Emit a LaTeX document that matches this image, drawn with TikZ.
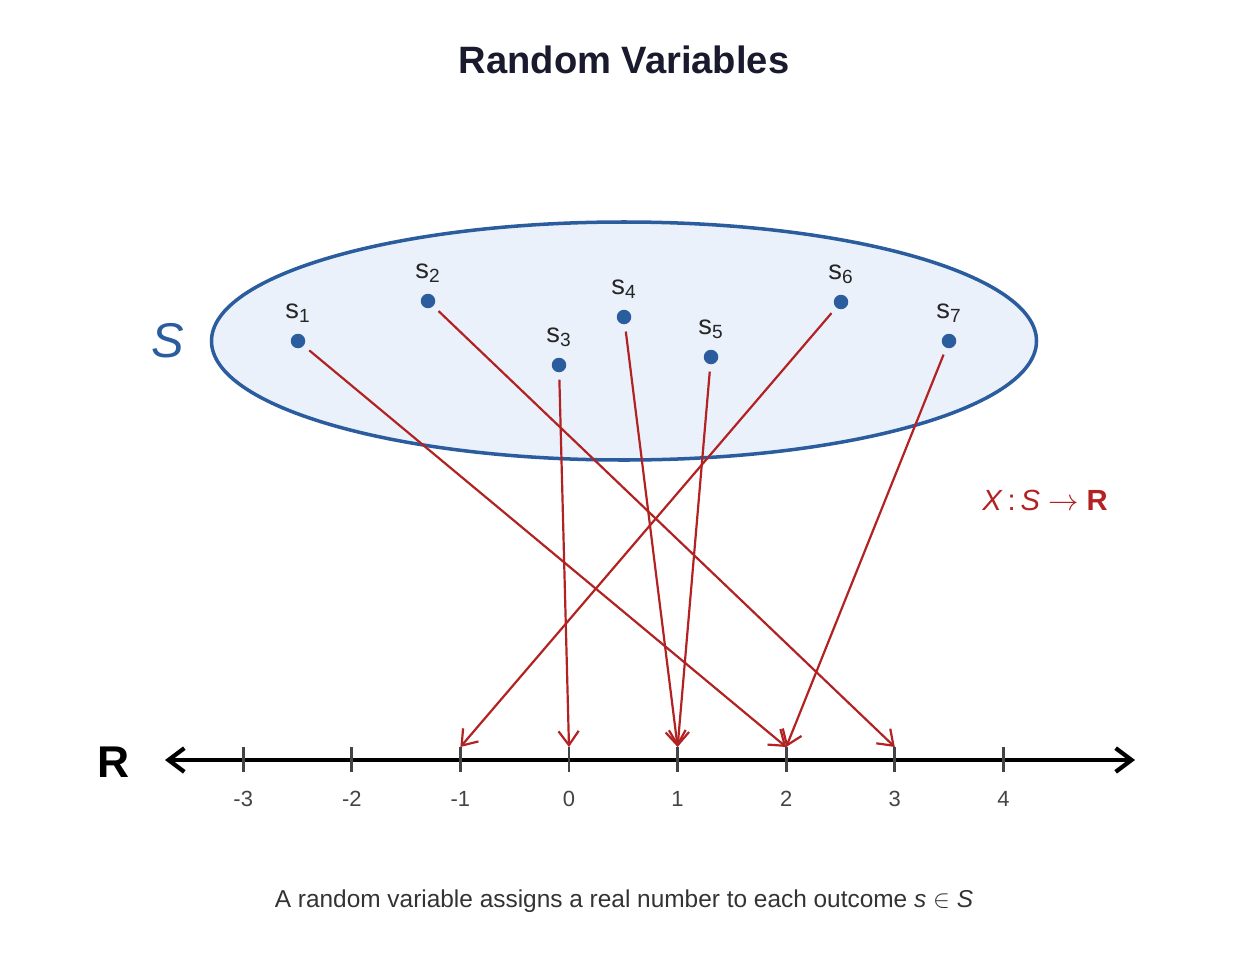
\documentclass[tikz,border=0pt]{standalone}
\usepackage{fontspec}
\setmainfont{Liberation Sans}
\usetikzlibrary{arrows.meta,calc,positioning}
\definecolor{setblue}{HTML}{2A5C9E}
\definecolor{setfill}{HTML}{EAF1FA}
\definecolor{mapred}{HTML}{B22222}
\definecolor{titleink}{HTML}{1A1A2E}
\definecolor{tickgray}{HTML}{444444}

\begin{document}
\begin{tikzpicture}[x=0.02cm,y=-0.02cm,
    dot/.style={circle,fill=setblue,inner sep=0pt,minimum size=0.29cm},
    outcome/.style={anchor=base,font=\fontsize{15.5}{17}\selectfont,text=black!85},
    mapto/.style={draw=mapred,line width=1.25pt,shorten <=4pt,
      -{Straight Barb[length=8pt,width=11.5pt]}},
    tickmark/.style={draw=tickgray,line width=1.5pt},
    ticklabel/.style={font=\fontsize{12.5}{14}\selectfont,text=tickgray}]
        % page frame, in pixels of the reference
        \useasboundingbox (0,0) rectangle (1248,960);
        \pgfmathsetmacro{\unit}{108.6}
        \pgfmathsetmacro{\zero}{569}

        \node[font=\fontsize{21.7}{26}\selectfont\bfseries,text=titleink]
          (heading) at (624,60) {Random Variables};

        % sample space
        \draw[fill=setfill,draw=setblue,line width=2pt]
          (624,341) coordinate (centro) ellipse [x radius=412.5,y radius=119];
        \node[font=\fontsize{27.8}{30}\selectfont\itshape,text=setblue]
          (space) at (168,341) {S};

        % outcomes
        \node[dot] (s1) at (298,341) {};
        \node[dot] (s2) at (428,301) {};
        \node[dot] (s3) at (559,365) {};
        \node[dot] (s4) at (624,317) {};
        \node[dot] (s5) at (711,357) {};
        \node[dot] (s6) at (841,302) {};
        \node[dot] (s7) at (949,341) {};
        \foreach \k in {1,...,7}
          \node[outcome] at ($(s\k)+(0,-23)$) {s\textsubscript{\k}};

        % real line
        \coordinate (left) at (165,760);
        \coordinate (right) at (1135,760);
        \draw[line width=2.4pt,{Straight Barb[length=9pt,width=13.5pt]}-{Straight Barb[length=9pt,width=13.5pt]}]
          (left) -- (right);
        \node[font=\fontsize{25.3}{28}\selectfont\bfseries] (reals) at (114,762) {R};
        \foreach \v in {-3,...,4} {
          \pgfmathsetmacro{\tx}{\zero+\unit*\v}
          \coordinate (tick\v) at (\tx,747);
          \draw[tickmark] (tick\v) -- ++(0,25);
          \node[ticklabel] at (\tx,799) {\v};
        }

        % the map X
        \draw[mapto] (s1) -- (tick2);
        \draw[mapto] (s2) -- (tick3);
        \draw[mapto] (s3) -- (tick0);
        \draw[mapto] (s4) -- (tick1);
        \draw[mapto] (s5) -- (tick1);
        \draw[mapto] (s6) -- (tick-1);
        \draw[mapto] (s7) -- (tick2);
        \node[font=\fontsize{16.6}{18}\selectfont,text=mapred] (rule) at (1045,500)
          {\textit{X}\,:\,\textit{S} $\rightarrow$ \textbf{R}};

        \node[font=\fontsize{13.9}{16}\selectfont,text=black!80] (caption) at (624,901)
          {A random variable assigns a real number to each outcome \textit{s} $\in$ \textit{S}};
    \end{tikzpicture}
\end{document}
